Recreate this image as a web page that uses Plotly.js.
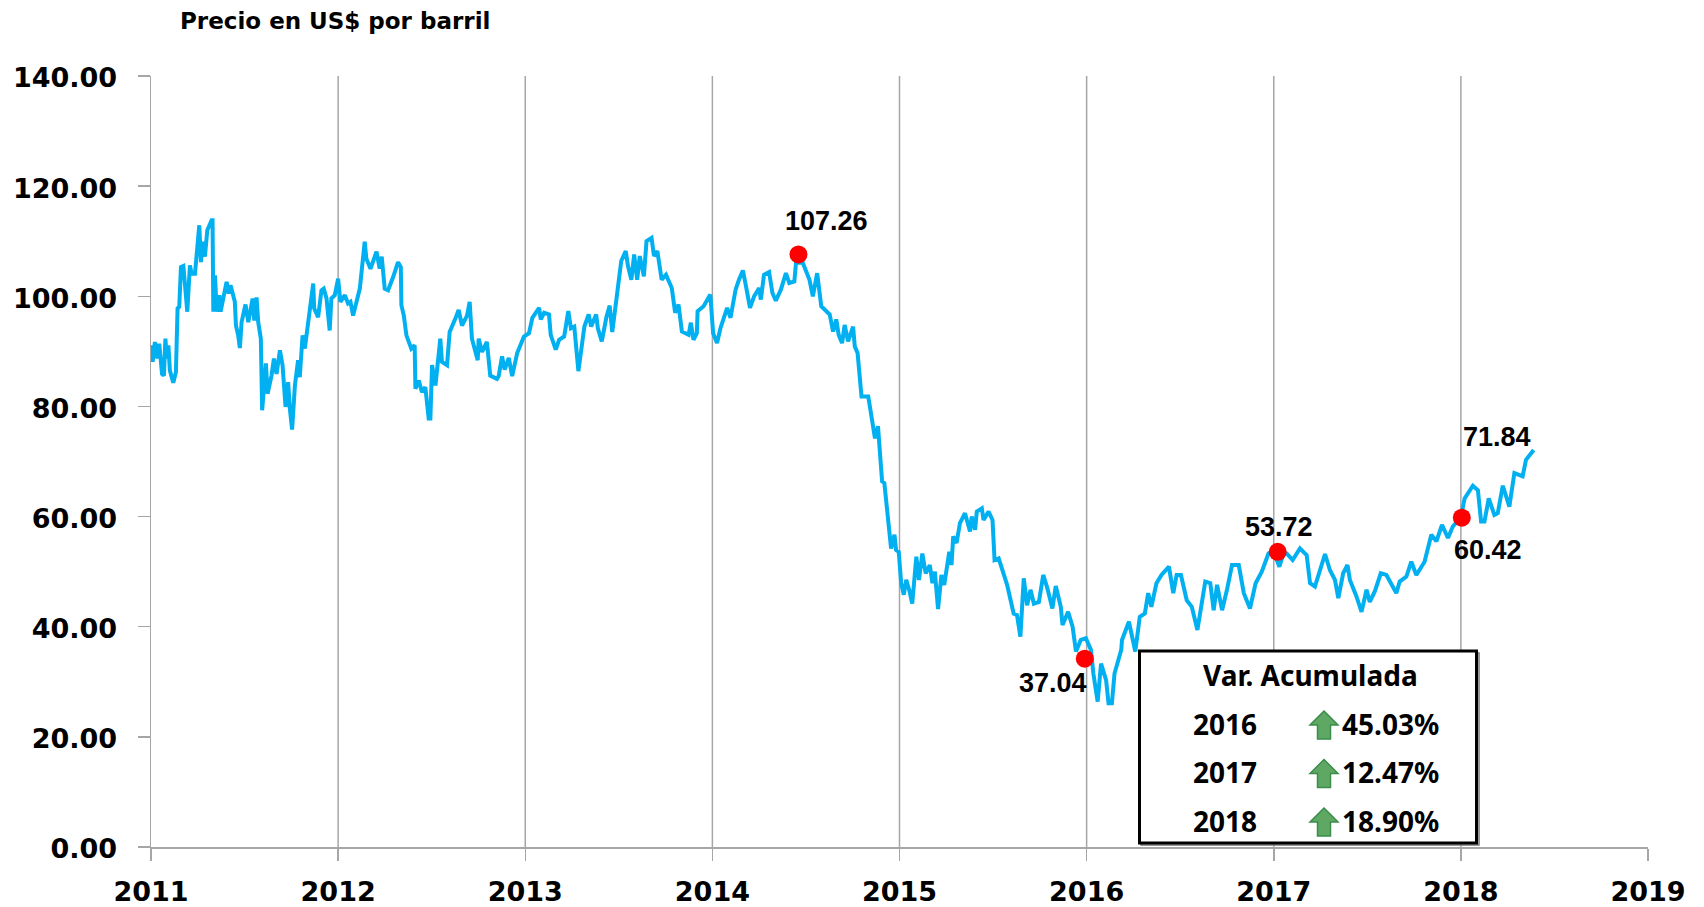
<!DOCTYPE html>
<html><head><meta charset="utf-8">
<script src="https://cdn.plot.ly/plotly-3.0.1.min.js"></script>
<style>html,body{margin:0;padding:0;background:#fff}#c{width:1704px;height:907px}</style>
</head><body><div id="c"></div>
<script>
const years=[2011.000,2011.009,2011.021,2011.034,2011.044,2011.059,2011.069,2011.077,2011.084,2011.093,2011.101,2011.119,2011.133,2011.142,2011.151,2011.160,2011.173,2011.183,2011.194,2011.208,2011.217,2011.235,2011.244,2011.253,2011.258,2011.267,2011.276,2011.288,2011.301,2011.324,2011.329,2011.333,2011.342,2011.351,2011.365,2011.372,2011.390,2011.404,2011.415,2011.425,2011.448,2011.454,2011.466,2011.475,2011.484,2011.505,2011.520,2011.543,2011.552,2011.564,2011.573,2011.587,2011.594,2011.614,2011.623,2011.644,2011.657,2011.671,2011.689,2011.703,2011.719,2011.733,2011.742,2011.754,2011.769,2011.786,2011.795,2011.810,2011.822,2011.840,2011.852,2011.867,2011.872,2011.893,2011.911,2011.923,2011.938,2011.955,2011.964,2011.982,
2012.000,2012.012,2012.036,2012.053,2012.066,2012.080,2012.098,2012.116,2012.142,2012.151,2012.173,2012.205,2012.222,2012.233,2012.249,2012.267,2012.294,2012.320,2012.335,2012.338,2012.351,2012.365,2012.391,2012.409,2012.413,2012.431,2012.448,2012.466,2012.484,2012.493,2012.502,2012.520,2012.546,2012.555,2012.582,2012.596,2012.626,2012.644,2012.662,2012.689,2012.703,2012.715,2012.746,2012.751,2012.769,2012.795,2012.813,2012.849,2012.858,2012.876,2012.890,2012.912,2012.930,2012.948,2012.957,2012.993,
2013.020,2013.038,2013.074,2013.083,2013.101,2013.127,2013.136,2013.163,2013.181,2013.208,2013.230,2013.244,2013.262,2013.284,2013.302,2013.316,2013.339,2013.352,2013.379,2013.388,2013.409,2013.433,2013.451,2013.465,2013.478,2013.496,2013.513,2013.537,2013.549,2013.567,2013.582,2013.598,2013.612,2013.634,2013.648,2013.675,2013.688,2013.706,2013.729,2013.752,2013.783,2013.801,2013.819,2013.837,2013.873,2013.885,2013.899,2013.917,2013.921,2013.953,2013.989,
2014.004,2014.025,2014.043,2014.079,2014.097,2014.124,2014.142,2014.163,2014.178,2014.201,2014.223,2014.250,2014.259,2014.276,2014.303,2014.321,2014.339,2014.366,2014.393,2014.411,2014.438,2014.447,2014.483,2014.519,2014.537,2014.560,2014.582,2014.627,2014.645,2014.662,2014.675,2014.693,2014.707,2014.725,2014.752,2014.761,2014.776,2014.788,2014.797,2014.833,2014.860,2014.869,2014.885,2014.900,2014.907,2014.919,2014.937,2014.955,2014.973,2014.982,2014.996,
2015.009,2015.023,2015.036,2015.054,2015.068,2015.090,2015.104,2015.122,2015.140,2015.162,2015.176,2015.189,2015.206,2015.224,2015.239,2015.266,2015.278,2015.287,2015.305,2015.323,2015.350,2015.377,2015.386,2015.404,2015.413,2015.440,2015.449,2015.476,2015.497,2015.508,2015.530,2015.575,2015.610,2015.628,2015.646,2015.664,2015.682,2015.700,2015.718,2015.745,2015.768,2015.790,2015.817,2015.835,2015.862,2015.871,2015.901,2015.925,2015.943,2015.969,2015.996,
2016.023,2016.036,2016.059,2016.077,2016.104,2016.117,2016.135,2016.149,2016.185,2016.189,2016.226,2016.260,2016.284,2016.311,2016.329,2016.346,2016.373,2016.400,2016.440,2016.463,2016.481,2016.504,2016.535,2016.562,2016.592,2016.634,2016.661,2016.679,2016.697,2016.724,2016.750,2016.777,2016.813,2016.840,2016.873,2016.903,2016.936,2016.972,
2017.000,2017.030,2017.052,2017.069,2017.101,2017.140,2017.176,2017.194,2017.220,2017.247,2017.274,2017.300,2017.327,2017.345,2017.371,2017.394,2017.407,2017.442,2017.469,2017.496,2017.513,2017.540,2017.572,2017.602,2017.629,2017.655,2017.673,2017.709,2017.735,2017.762,2017.806,2017.842,2017.869,2017.899,2017.931,2017.957,
2018.000,2018.020,2018.064,2018.091,2018.108,2018.126,2018.149,2018.179,2018.197,2018.224,2018.259,2018.286,2018.330,2018.348,2018.389];
const prices=[91.1,88.1,91.7,88.7,91.4,85.9,85.6,92.3,88.7,91.1,86.5,84.3,86.2,97.8,98.1,105.3,105.5,100.8,97.2,105.6,104.1,104.1,107.5,109.0,112.9,106.2,109.9,107.2,112.0,113.8,113.8,97.2,103.8,97.2,100.2,97.2,100.2,102.6,100.5,102.0,99.0,94.7,92.9,90.6,95.3,98.5,95.3,99.6,95.6,99.8,95.3,92.3,79.3,87.8,82.3,85.6,88.7,85.9,90.2,87.5,79.9,84.4,79.6,75.8,83.8,88.4,85.3,92.9,90.5,94.7,98.4,102.3,97.8,96.2,101.1,101.4,99.6,93.8,99.6,100.2,
103.2,99.0,100.2,98.7,99.0,96.5,99.0,101.4,109.9,106.8,105.0,108.1,105.0,107.2,101.4,101.1,103.5,106.2,105.3,98.4,96.5,92.9,90.5,91.1,83.2,84.7,82.6,83.5,77.8,77.8,87.5,83.8,92.3,88.1,87.5,93.5,95.9,97.5,94.7,96.5,99.0,92.3,88.4,92.3,89.9,91.7,85.6,85.0,85.5,89.1,86.7,88.8,85.5,88.5,89.7,92.7,
93.3,96.1,97.9,95.8,97.0,96.7,93.0,90.3,92.1,92.7,97.3,94.2,94.5,86.4,90.3,94.5,96.7,94.5,96.7,94.2,91.8,96.1,98.3,93.5,97.0,102.4,106.4,108.2,105.5,103.0,107.6,103.0,107.3,103.6,110.0,110.6,107.3,108.2,103.0,103.9,101.5,97.0,98.5,93.6,93.0,95.2,92.1,93.3,97.3,98.2,100.3,
93.3,91.5,94.2,97.9,96.1,101.2,103.0,104.7,102.1,97.9,100.0,101.5,99.4,103.9,104.4,100.6,99.2,101.2,104.2,102.4,102.7,106.1,106.1,103.0,100.0,104.2,98.2,96.7,93.6,95.8,93.0,91.5,94.8,91.8,94.5,90.9,89.7,85.5,81.8,81.8,76.4,74.2,76.4,70.3,66.4,66.1,60.3,54.2,56.7,53.9,53.6,
47.9,45.8,48.5,46.4,44.2,52.7,48.5,53.3,49.7,51.2,47.9,50.0,43.2,49.4,47.6,53.6,51.2,56.4,55.2,58.8,60.6,57.3,60.0,57.6,60.9,61.5,59.4,60.9,59.4,52.1,52.4,47.6,42.4,42.1,38.2,48.8,43.9,46.7,44.2,44.5,49.4,47.0,43.3,47.4,43.6,40.3,42.7,40.0,35.5,37.6,37.9,
35.8,31.5,26.4,33.3,30.3,26.1,26.1,31.5,35.8,37.6,40.9,35.5,41.8,42.4,46.1,43.6,47.9,49.4,50.9,46.1,49.4,49.4,44.8,43.6,39.4,48.2,47.9,43.0,47.6,43.0,46.7,51.2,51.2,46.1,43.3,47.9,50.0,53.3,
53.6,50.9,53.3,53.3,52.1,54.2,53.0,47.9,47.3,50.3,53.2,50.3,48.5,45.2,49.7,51.2,48.5,45.5,42.7,46.7,44.5,46.4,49.7,49.4,47.6,46.1,48.2,49.1,51.8,49.4,51.8,56.7,55.5,58.5,56.1,58.2,
59.9,63.3,65.6,64.8,59.1,59.1,63.3,60.3,60.6,65.6,61.8,67.9,67.3,70.3,72.1];
const markerYears=[2014.46,2015.99,2017.021,2018.005];
const markerPrices=[107.6,34.2,53.6,59.8];
const tickYears=[2011,2012,2013,2014,2015,2016,2017,2018,2019];
const gridYears=[2012,2013,2014,2015,2016,2017,2018];
const yTicks=[0,20,40,60,80,100,120,140];
const yTickLabels=["0.00","20.00","40.00","60.00","80.00","100.00","120.00","140.00"];
const pointLabels=["107.26","37.04","53.72","60.42","71.84"];
const tableTitle="Var. Acumulada";
const tableYears=["2016","2017","2018"];
const tablePcts=["45.03%","12.47%","18.90%"];

const W=1704,H=907,L=151,R=1648,T=76,B=847;
const px=x=>(x-L)/(R-L), py=y=>(B-y)/(B-T);
const GRAY="#a6a6a6";
const TICKFONT={family:"DejaVu Sans",size:27,color:"#000",weight:700};
const LABELFONT={family:"Liberation Sans",size:27,color:"#000",weight:700};
const TABLEFONT={family:"Noto Sans",size:28,color:"#000",weight:700};

function note(text,x,y,font){return {text:text,xref:"paper",yref:"paper",x:px(x),y:py(y),xanchor:"center",yanchor:"middle",showarrow:false,font:font};}
function rect(x0,y0,x1,y1,line,fill){return {type:"rect",xref:"paper",yref:"paper",x0:px(x0),y0:py(y0),x1:px(x1),y1:py(y1),line:line,fillcolor:fill||"rgba(0,0,0,0)",layer:"above"};}
function arrowPath(cx,top){
  const p=[[cx,top],[cx+14,top+14],[cx+6.5,top+14],[cx+6.5,top+28],[cx-6.5,top+28],[cx-6.5,top+14],[cx-14,top+14]];
  return "M"+p.map(q=>px(q[0]).toFixed(5)+","+py(q[1]).toFixed(5)).join("L")+"Z";
}
const labelPos=[[826,221],[1053,683],[1279,527],[1488,550],[1497,437]];
const rowY=[724,772,821], arrowTop=[711,759.5,808];

const shapes=gridYears.map(y=>({type:"line",xref:"x",yref:"paper",x0:y,x1:y,y0:0,y1:1,line:{color:GRAY,width:1.5},layer:"below"}));
shapes.push(rect(1141,653,1479,845,{color:"#777",width:1.5}));
shapes.push(rect(1139.5,651,1476.5,843,{color:"#000",width:3},"#fff"));
arrowTop.forEach(t=>shapes.push({type:"path",xref:"paper",yref:"paper",path:arrowPath(1324,t),fillcolor:"#5fa863",line:{color:"#3c8d4c",width:1.5},layer:"above"}));

const annotations=[
  note("Precio en US$ por barril",335,21,{family:"DejaVu Sans",size:23,color:"#000",weight:700}),
  note(tableTitle,1310,675,TABLEFONT)
];
pointLabels.forEach((t,i)=>annotations.push(note(t,labelPos[i][0],labelPos[i][1],LABELFONT)));
tableYears.forEach((t,i)=>{annotations.push(note(t,1225,rowY[i],TABLEFONT));annotations.push(note(tablePcts[i],1390,rowY[i],TABLEFONT));});

Plotly.newPlot("c",[
 {type:"scatter",mode:"lines",x:years,y:prices,line:{color:"#00b0f0",width:4,shape:"linear"},hoverinfo:"x+y"},
 {type:"scatter",mode:"markers",x:markerYears,y:markerPrices,marker:{color:"#ff0000",size:18,line:{width:0}},hoverinfo:"x+y"}
],{
 width:W,height:H,showlegend:false,paper_bgcolor:"#fff",plot_bgcolor:"#fff",
 margin:{l:L,r:W-R,t:T,b:H-B,pad:0},
 xaxis:{type:"linear",range:[2011,2019],tickmode:"array",tickvals:tickYears,ticktext:tickYears.map(String),showgrid:false,zeroline:false,showline:true,linecolor:GRAY,linewidth:1.5,ticks:"outside",ticklen:12,tickwidth:1.5,tickcolor:GRAY,tickfont:TICKFONT,ticklabelstandoff:8},
 yaxis:{range:[0,140],tickmode:"array",tickvals:yTicks,ticktext:yTickLabels,showgrid:false,zeroline:false,showline:true,linecolor:GRAY,linewidth:1.5,ticks:"outside",ticklen:12,tickwidth:1.5,tickcolor:GRAY,tickfont:TICKFONT,ticklabelstandoff:15,ticklabelshift:2},
 shapes:shapes,annotations:annotations
},{displayModeBar:false,staticPlot:true});
</script></body></html>
